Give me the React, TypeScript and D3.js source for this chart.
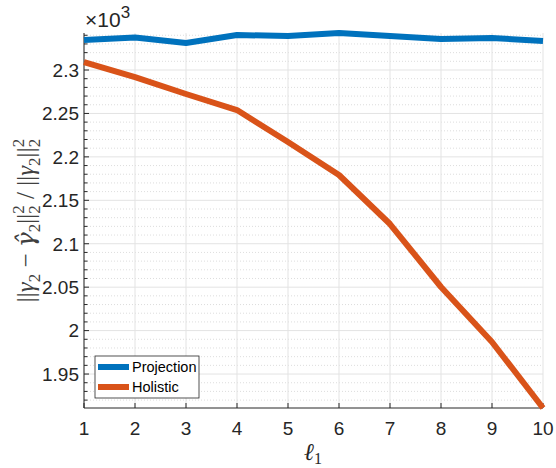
import React from 'react';
import * as d3 from 'd3';

const xValues = [1, 2, 3, 4, 5, 6, 7, 8, 9, 10];
const projection = [2.3345, 2.3374, 2.3311, 2.3403, 2.3391, 2.3426, 2.3391, 2.3357, 2.3368, 2.3334];
const holistic = [2.3092, 2.2919, 2.2724, 2.2539, 2.2171, 2.1791, 2.1227, 2.0502, 1.9869, 1.9109];
const xTicks = [1, 2, 3, 4, 5, 6, 7, 8, 9, 10];
const yTicks = [1.95, 2, 2.05, 2.1, 2.15, 2.2, 2.25, 2.3];
const yTickLabels = ['1.95', '2', '2.05', '2.1', '2.15', '2.2', '2.25', '2.3'];
const seriesNames = ['Projection', 'Holistic'];
const seriesColors = ['#0072BD', '#D95319'];

const W = 556;
const H = 468;
const L = 84;
const R = 543;
const T = 33;
const B = 408;
const AX = '#262626';
const SANS = '"Liberation Sans", Arial, Helvetica, sans-serif';
const SERIF = '"Liberation Serif", "DejaVu Serif", serif';

export default function App() {
  const x = d3.scaleLinear().domain([1, 10]).range([L, R]);
  const allVals = [...projection, ...holistic];
  const y = d3.scaleLinear().domain(d3.extent(allVals) as [number, number]).range([B, T]);
  const [y0, y1] = y.domain();
  const minor = d3.range(Math.ceil(y0 * 100), Math.floor(y1 * 100) + 1)
    .map((v) => v / 100)
    .filter((v) => !yTicks.some((t) => Math.abs(t - v) < 1e-6));
  const line = d3.line<number>().x((_, i) => x(xValues[i])).y((d) => y(d));
  const series = [projection, holistic];
  const sub = 17;
  const bars = '||';

  return (
    <svg width={W} height={H} style={{ position: 'absolute', left: 0, top: 0, background: '#fff' }}>
      <rect x={0} y={0} width={W} height={H} fill="#fff" />
      {minor.map((v) => (
        <line key={'mg' + v} x1={L} x2={R} y1={y(v)} y2={y(v)} stroke="#d4d4d4" strokeWidth={0.8} strokeDasharray="1,2" />
      ))}
      {yTicks.map((v) => (
        <line key={'gy' + v} x1={L} x2={R} y1={y(v)} y2={y(v)} stroke="#e3e3e3" strokeWidth={1} />
      ))}
      {xTicks.map((v) => (
        <line key={'gx' + v} x1={x(v)} x2={x(v)} y1={T} y2={B} stroke="#e3e3e3" strokeWidth={1} />
      ))}
      <line x1={L} x2={L} y1={T} y2={B} stroke={AX} strokeWidth={1} />
      <line x1={L} x2={R} y1={B} y2={B} stroke={AX} strokeWidth={1} />
      {yTicks.map((v, i) => (
        <g key={'yt' + v}>
          <line x1={L} x2={L + 5} y1={y(v)} y2={y(v)} stroke={AX} strokeWidth={1} />
          <text x={L - 5} y={y(v)} dy="0.36em" textAnchor="end" fontFamily={SANS} fontSize={19} fill={AX}>
            {yTickLabels[i]}
          </text>
        </g>
      ))}
      {minor.map((v) => (
        <line key={'mt' + v} x1={L} x2={L + 3.5} y1={y(v)} y2={y(v)} stroke={AX} strokeWidth={1} />
      ))}
      {xTicks.map((v) => (
        <g key={'xt' + v}>
          <line x1={x(v)} x2={x(v)} y1={B} y2={B - 5} stroke={AX} strokeWidth={1} />
          <text x={x(v)} y={435} textAnchor="middle" fontFamily={SANS} fontSize={19} fill={AX}>
            {String(v)}
          </text>
        </g>
      ))}
      <text x={85} y={27} fontFamily={SANS} fontSize={21} fill={AX}>
        ×10<tspan fontSize={17} dy={-9}>3</tspan>
      </text>
      {series.map((s, i) => (
        <path key={'s' + i} d={line(s) || ''} fill="none" stroke={seriesColors[i]} strokeWidth={6} strokeLinejoin="round" />
      ))}
      <rect x={95} y={356} width={104} height={42} fill="#fff" stroke={AX} strokeWidth={0.8} />
      {seriesNames.map((n, i) => (
        <g key={'lg' + i}>
          <line x1={98} x2={129} y1={367 + i * 20} y2={367 + i * 20} stroke={seriesColors[i]} strokeWidth={6} />
          <text x={132} y={367 + i * 20} dy="0.36em" fontFamily={SANS} fontSize={14.5} fill="#000">
            {n}
          </text>
        </g>
      ))}
      <text x={313} y={460} textAnchor="middle" fontFamily={SERIF} fontSize={24} fill={AX}>
        <tspan fontStyle="italic">ℓ</tspan>
        <tspan fontSize={16} dy={4}>1</tspan>
      </text>
      <text transform={`translate(34,${(T + B) / 2}) rotate(-90)`} textAnchor="middle" fontFamily={SERIF} fontSize={25} fill="#404040">
        <tspan>{bars}</tspan>
        <tspan fontStyle="italic">γ</tspan>
        <tspan fontSize={sub} dy={6}>2</tspan>
        <tspan dy={-6}>{'\u00a0−\u00a0'}</tspan>
        <tspan fontStyle="italic" fontFamily='"DejaVu Serif", serif'>γ̂</tspan>
        <tspan fontSize={sub} dy={6}>2</tspan>
        <tspan dy={-6}>{bars}</tspan>
        <tspan fontSize={sub} dy={-10}>2</tspan>
        <tspan fontSize={sub} dx={-8.5} dy={16}>2</tspan>
        <tspan dy={-6}>{'\u00a0/\u00a0' + bars}</tspan>
        <tspan fontStyle="italic">γ</tspan>
        <tspan fontSize={sub} dy={6}>2</tspan>
        <tspan dy={-6}>{bars}</tspan>
        <tspan fontSize={sub} dy={-10}>2</tspan>
        <tspan fontSize={sub} dx={-8.5} dy={16}>2</tspan>
      </text>
    </svg>
  );
}
